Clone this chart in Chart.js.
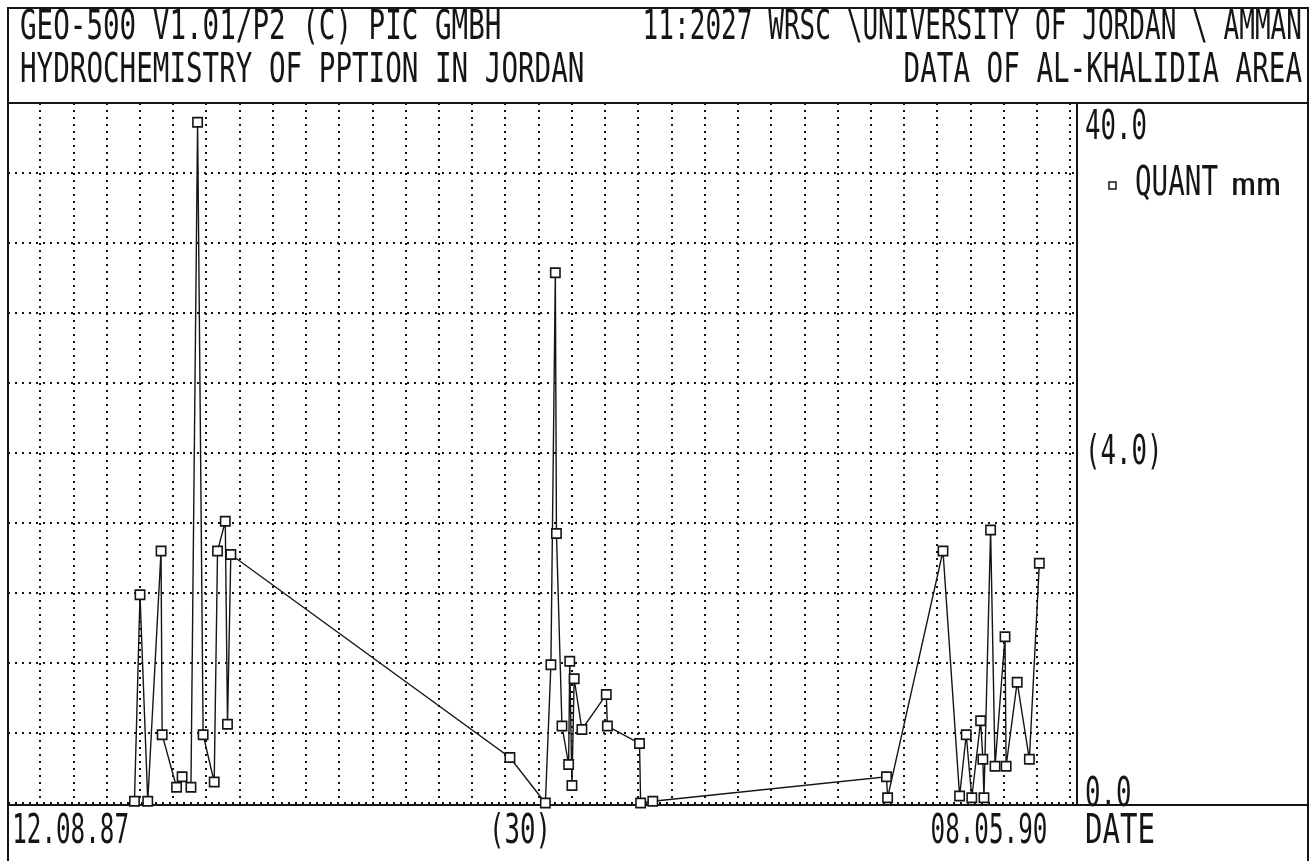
<!DOCTYPE html>
<html>
<head>
<meta charset="utf-8">
<title>QUANT mm - Al-Khalidia</title>
<script src="https://cdn.jsdelivr.net/npm/chart.js@4/dist/chart.umd.min.js"></script>
<style>
  html, body { margin: 0; padding: 0; background: #ffffff; }
  #wrap { width: 1315px; height: 861px; position: relative; }
  canvas { display: block; }
</style>
</head>
<body>
<div id="wrap"><canvas id="chart" width="1315" height="861"></canvas></div>
<script>
// Precipitation quantity at Al-Khalidia, days counted from 12.08.87
const sampleDays = [
  114, 119, 126, 138, 139, 152, 157, 165, 171, 176, 186, 189, 196, 198, 201,
  453, 485, 490, 494, 495, 500, 506, 507, 509, 511, 518, 540, 541, 570, 571, 582,
  793, 794, 844, 859, 865, 870, 878, 880, 881, 887, 891, 900, 901, 911, 922, 931
];
const quantMm = [
  0.1, 11.9, 0.1, 14.4, 3.9, 0.9, 1.5, 0.9, 38.9, 3.9, 1.2, 14.4, 16.1, 4.5, 14.2,
  2.6, 0.0, 7.9, 30.3, 15.4, 4.4, 2.2, 8.1, 1.0, 7.1, 4.2, 6.2, 4.4, 3.4, 0.0, 0.1,
  1.5, 0.3, 14.4, 0.4, 3.9, 0.3, 4.7, 2.5, 0.3, 15.6, 2.1, 9.5, 2.1, 6.9, 2.5, 13.7
];

// Header lines of the printout
const headerLeft = ['GEO-500 V1.01/P2 (C) PIC GMBH', 'HYDROCHEMISTRY OF PPTION IN JORDAN'];
const headerRight = ['11:2027 WRSC \\UNIVERSITY OF JORDAN \\ AMMAN', 'DATA OF AL-KHALIDIA AREA'];

// Axis annotations
const yLabelValues = [40, 20, 0];
const yLabelTexts = ['40.0', '(4.0)', '0.0'];
const xLabelDays = [0, 462, 931];
const xLabelTexts = ['12.08.87', '(30)', '08.05.90'];
const xAxisName = 'DATE';
const seriesName = 'QUANT';
const unitName = 'mm';

// Scale extents
const Y_MAX = 40, Y_STEP = 4;
const X_MAX = 965, X_GRID_START = 29, X_GRID_STEP = 30;

// Printer-style lettering: monospace, narrow and tall
const INK = '#151515';
const PITCH = 16.6;
const FONT_PX = 27.7;
const STRETCH_Y = 1.5;

function printText(ctx, text, x, y, align, opts) {
  const o = opts || {};
  const pitch = o.pitch || PITCH;
  const sy = o.sy || STRETCH_Y;
  const fontPx = o.fontPx || FONT_PX;
  ctx.save();
  ctx.font = fontPx + 'px "DejaVu Sans Mono", "Liberation Mono", monospace';
  const natural = ctx.measureText(text).width;
  const w = text.length * pitch;
  const sx = w / natural;
  let left = x;
  if (align === 'right') left = x - w;
  else if (align === 'center') left = x - w / 2;
  ctx.translate(left, y);
  ctx.scale(sx, sy);
  ctx.fillStyle = INK;
  ctx.textAlign = 'left';
  ctx.textBaseline = 'middle';
  ctx.fillText(text, 0, 0);
  ctx.restore();
}

const printFrame = {
  id: 'printFrame',
  beforeDatasetsDraw(chart) {
    const { ctx, chartArea: a, height } = chart;
    ctx.save();
    ctx.strokeStyle = INK;
    ctx.lineWidth = 2;
    ctx.beginPath();
    // outer frame
    ctx.moveTo(8, height);
    ctx.lineTo(8, 8);
    ctx.lineTo(1308, 8);
    ctx.lineTo(1308, height);
    // header rule
    ctx.moveTo(8, a.top);
    ctx.lineTo(1308, a.top);
    // baseline / footer rule
    ctx.moveTo(8, a.bottom + 2);
    ctx.lineTo(1308, a.bottom + 2);
    // right panel separator
    ctx.moveTo(a.right, a.top);
    ctx.lineTo(a.right, a.bottom + 2);
    ctx.stroke();
    ctx.restore();
  },
  afterDraw(chart) {
    const { ctx, chartArea: a } = chart;
    const xs = chart.scales.x, ys = chart.scales.y;

    // header
    printText(ctx, headerLeft[0], 20, 28, 'left');
    printText(ctx, headerLeft[1], 20, 71, 'left');
    printText(ctx, headerRight[0], 1302, 28, 'right', { pitch: 15.7 });
    printText(ctx, headerRight[1], 1302, 71, 'right');

    // y annotations in the right panel
    yLabelValues.forEach((v, i) => {
      let y = ys.getPixelForValue(v);
      y = Math.min(Math.max(y, a.top + 25), a.bottom - 8);
      printText(ctx, yLabelTexts[i], a.right + 8, y, 'left', { pitch: 15.5 });
    });

    // legend
    const ds = chart.data.datasets[0];
    const ly = 184;
    ctx.save();
    ctx.strokeStyle = INK;
    ctx.lineWidth = 1.5;
    ctx.strokeRect(1109, ly - 2, 7, 7);
    ctx.restore();
    printText(ctx, ds.label, 1135, ly, 'left');
    printText(ctx, unitName, 1231, ly + 3, 'left', { pitch: 25, sy: 0.85, fontPx: 36 });

    // x annotations below the plot
    const ly2 = a.bottom + 29;
    xLabelDays.forEach((d, i) => {
      const px = xs.getPixelForValue(d);
      const last = i === xLabelDays.length - 1;
      const align = i === 0 ? 'left' : (last ? 'right' : 'center');
      const x = i === 0 ? px + 4 : (last ? px + 8 : px);
      printText(ctx, xLabelTexts[i], x, ly2, align, { pitch: i === 1 ? 15.5 : 14.6 });
    });
    printText(ctx, xAxisName, a.right + 8, ly2, 'left', { pitch: 17.5 });
  }
};

const gridDays = [];
for (let d = X_GRID_START; d <= X_MAX; d += X_GRID_STEP) gridDays.push(d);

new Chart(document.getElementById('chart').getContext('2d'), {
  type: 'line',
  data: {
    datasets: [{
      label: seriesName,
      data: sampleDays.map((d, i) => ({ x: d, y: quantMm[i] })),
      borderColor: INK,
      borderWidth: 1.4,
      tension: 0,
      fill: false,
      pointStyle: 'rect',
      pointRadius: 6.6,
      pointBorderWidth: 1.6,
      pointBorderColor: INK,
      pointBackgroundColor: '#ffffff',
      clip: false
    }]
  },
  options: {
    responsive: false,
    animation: false,
    devicePixelRatio: 1,
    layout: { padding: { left: 8, top: 103, right: 238, bottom: 58 } },
    plugins: { legend: { display: false }, tooltip: { enabled: false }, title: { display: false } },
    scales: {
      x: {
        type: 'linear',
        min: 0,
        max: X_MAX,
        afterBuildTicks(axis) { axis.ticks = gridDays.map(v => ({ value: v })); },
        ticks: { display: false },
        grid: { color: '#111111', lineWidth: 2, drawTicks: false },
        border: { display: false, dash: [2, 5] }
      },
      y: {
        min: 0,
        max: Y_MAX,
        ticks: { display: false, stepSize: Y_STEP },
        grid: { color: '#111111', lineWidth: 2, drawTicks: false },
        border: { display: false, dash: [2, 5] }
      }
    }
  },
  plugins: [printFrame]
});
</script>
</body>
</html>
